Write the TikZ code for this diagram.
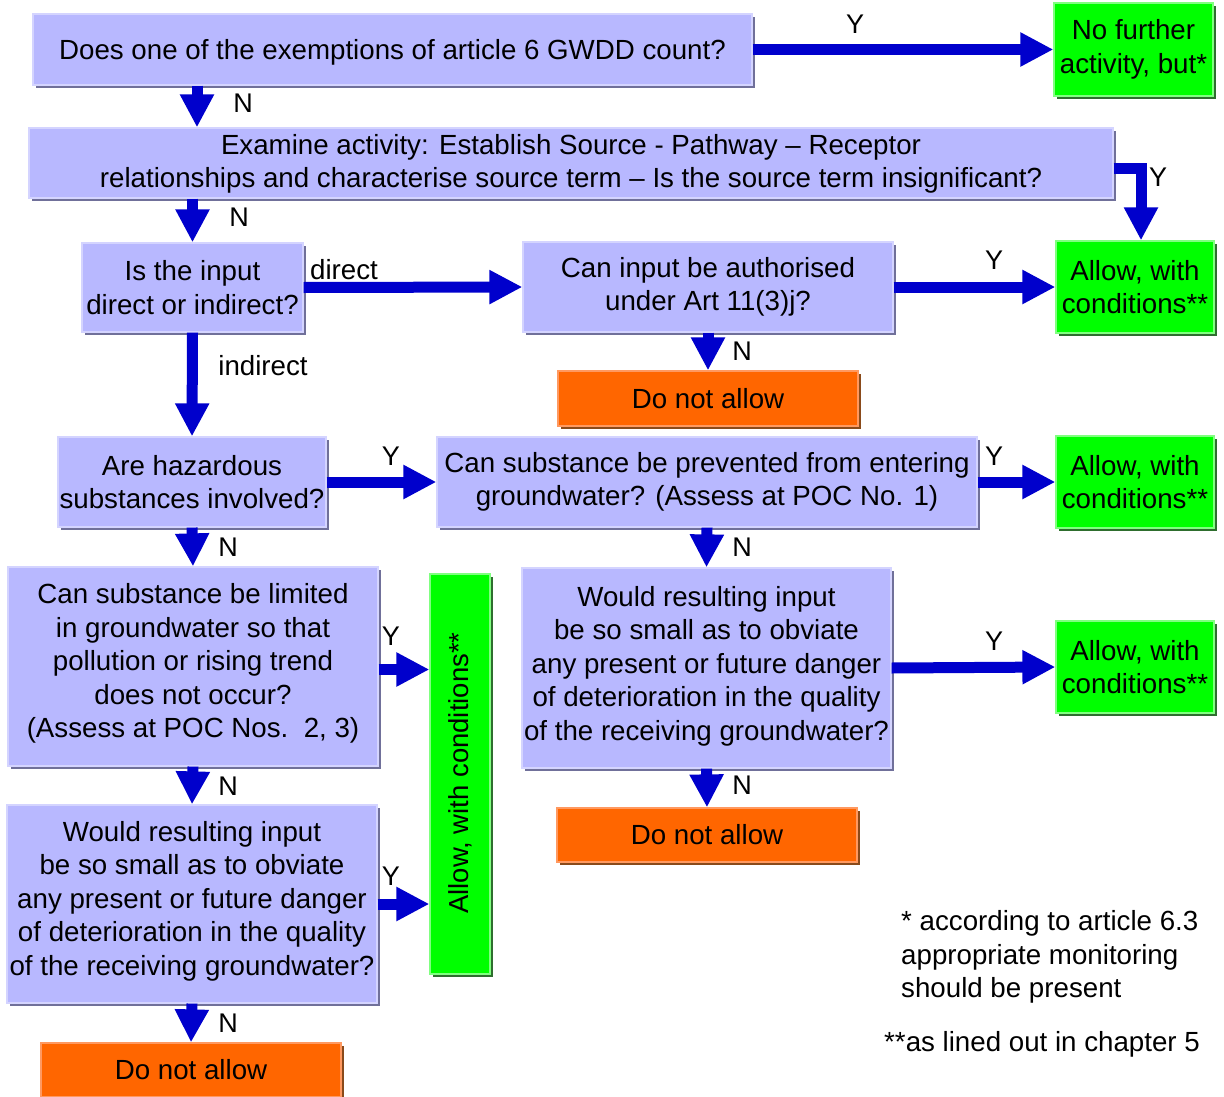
\documentclass[tikz,border=0pt]{standalone}
\usepackage{fontspec}
\usepackage{graphicx}
\setmainfont{Liberation Sans}
\usetikzlibrary{arrows.meta}
\definecolor{lav}{HTML}{B8B8FF}
\definecolor{lavedge}{HTML}{D4D4FF}
\definecolor{qboxshadow}{HTML}{70709A}
\definecolor{grn}{HTML}{00FF00}
\definecolor{grnedge}{HTML}{80FF80}
\definecolor{gboxshadow}{HTML}{2E6E2E}
\definecolor{org}{HTML}{FF6600}
\definecolor{orgedge}{HTML}{FF9960}
\definecolor{oboxshadow}{HTML}{8A4A1A}
\definecolor{arrblue}{HTML}{0000CC}
% #1 style, #2 name, #3-#6 corners, #7 text shift, #8 text
\newcommand\mkbox[8]{%
  \fill[#1shadow] (#3+3,#4+3) rectangle (#5+3,#6+3);
  \node[#1, minimum width={#5-#3}, minimum height={#6-#4}] (#2) at ({(#3+#5)/2},{(#4+#6)/2}) {};
  \node[boxtext] (#2-text) at ({(#3+#5)/2},{(#4+#6)/2+#7}) {#8};
}
\begin{document}
\begin{tikzpicture}[x=1pt,y=-1pt,
  base/.style={rectangle, inner sep=0pt, line width=1.2pt},
  qbox/.style={base, fill=lav, draw=lavedge},
  gbox/.style={base, fill=grn, draw=grnedge},
  obox/.style={base, fill=org, draw=orgedge},
  boxtext/.style={inner sep=0pt, align=center, font=\fontsize{27.7}{33.5}\selectfont},
  arr/.style={draw=arrblue, line width=11pt, -{Triangle[length=33pt,width=32pt]}, arrblue},
  lbl/.style={inner sep=0pt, font=\fontsize{27}{30}\selectfont},
  txt/.style={inner sep=0pt, font=\fontsize{27.7}{33.5}\selectfont},
  note/.style={inner sep=0pt, anchor=west, align=left, font=\fontsize{27.7}{33.5}\selectfont}]
\useasboundingbox (0,0) rectangle (1224,1097);

% boxes
\mkbox{qbox}{q1}{33}{14}{752}{85}{3}{Does one of the exemptions of article 6 GWDD count?}
\mkbox{gbox}{nf}{1054}{3}{1213}{96}{0}{No further\\activity, but*}
\mkbox{qbox}{ex}{29}{128}{1113}{198}{1}{Examine activity: Establish Source - Pathway -- Receptor\\relationships and characterise source term -- Is the source term insignificant?}
\mkbox{qbox}{isin}{82}{243}{303}{332}{0}{Is the input\\direct or indirect?}
\mkbox{qbox}{canin}{523}{242}{893}{332}{0}{Can input be authorised\\under Art 11(3)j?}
\mkbox{gbox}{al1}{1056}{241}{1214}{333}{0}{Allow, with\\conditions**}
\mkbox{obox}{dna1}{558}{371}{858}{426}{0}{Do not allow}
\mkbox{qbox}{haz}{58}{437}{326}{527}{0}{Are hazardous\\substances involved?}
\mkbox{qbox}{prev}{437}{437}{977}{527}{0}{Can substance be prevented from entering\\groundwater? (Assess at POC No. 1)}
\mkbox{gbox}{al2}{1056}{436}{1214}{528}{0}{Allow, with\\conditions**}
\mkbox{qbox}{lim}{8}{567}{378}{766}{-3}{Can substance be limited\\in groundwater so that\\pollution or rising trend\\does not occur?\\(Assess at POC Nos.\ \ 2, 3)}
\mkbox{qbox}{wr}{522}{568}{891}{768}{-2}{Would resulting input\\be so small as to obviate\\any present or future danger\\of deterioration in the quality\\of the receiving groundwater?}
\mkbox{gbox}{al3}{1056}{621}{1214}{713}{0}{Allow, with\\conditions**}
\fill[gboxshadow] (433,577) rectangle (493,977);
\node[gbox, minimum width=60, minimum height=400] (vert) at (460,774) {};
\node[boxtext, rotate=90] (vert-text) at (460,773) {\fontsize{27.5}{33}\selectfont Allow, with conditions**};
\mkbox{qbox}{wl}{7}{805}{377}{1003}{-3}{Would resulting input\\be so small as to obviate\\any present or future danger\\of deterioration in the quality\\of the receiving groundwater?}
\mkbox{obox}{dna2}{557}{808}{857}{862}{0}{Do not allow}
\mkbox{obox}{dna3}{41}{1043}{341}{1097}{0}{Do not allow}

% connectors
\draw[arr] (q1.east) -- (nf.west);
\draw[arr] (197,0 |- q1.south) -- (197,0 |- ex.north);
\draw[arr] ([yshift=-6pt]ex.east) -| (1141,0 |- al1.north);
\draw[arr] (isin.north |- ex.south) -- (isin.north);
\draw[arr] (isin.east) -- (canin.west);
\draw[arr] (canin.east) -- (al1.west);
\draw[arr] (canin.south) -- (dna1.north);
\draw[arr] (isin.south) -- (haz.north);
\draw[arr] (haz.east) -- (prev.west);
\draw[arr] (prev.east) -- (al2.west);
\draw[arr] (haz.south) -- (lim.north);
\draw[arr] (prev.south) -- (wr.north);
\draw[arr] (wr.east) -- (al3.west);
\draw[arr] (wr.south) -- (dna2.north);
\draw[arr] ([yshift=-3pt]lim.east) -- ([yshift=-3pt]lim.east -| vert.west);
\draw[arr] (lim.south) -- (wl.north);
\draw[arr] (wl.east) -- (wl.east -| vert.west);
\draw[arr] (wl.south) -- (dna3.north);

% labels
\node[lbl] (y1) at (855,24) {Y};
\node[lbl] (n1) at (243,103) {N};
\node[lbl] (y2) at (1158,177) {Y};
\node[lbl] (n2) at (239,217) {N};
\node[txt] (ldir) at (344,270) {direct};
\node[lbl] (y3) at (994,260) {Y};
\node[lbl] (n3) at (742,351) {N};
\node[txt] (lind) at (263,366) {indirect};
\node[lbl] (y4) at (391,456) {Y};
\node[lbl] (y5) at (994,456) {Y};
\node[lbl] (n4) at (228,547) {N};
\node[lbl] (n5) at (742,547) {N};
\node[lbl] (y6) at (391,636) {Y};
\node[lbl] (y7) at (994,641) {Y};
\node[lbl] (n6) at (228,786) {N};
\node[lbl] (n7) at (742,785) {N};
\node[lbl] (y8) at (391,876) {Y};
\node[lbl] (n8) at (228,1023) {N};

% notes
\node[note] (note1) at (901,957) {* according to article 6.3\\appropriate monitoring\\should be present};
\node[note] (note2) at (884,1044) {**as lined out in chapter 5};
\end{tikzpicture}
\end{document}
